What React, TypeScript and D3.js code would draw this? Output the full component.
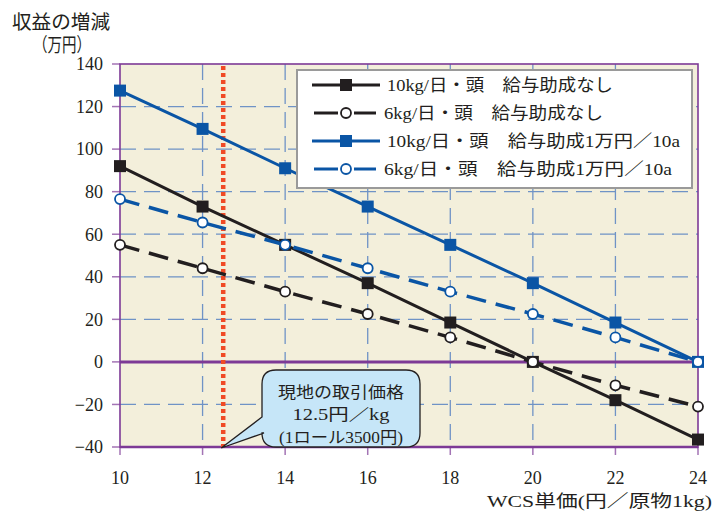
import React from "react";
import * as d3 from "d3";

const xValues = [10, 12, 14, 16, 18, 20, 22, 24];
const black10 = [92, 73, 55, 37, 18.5, 0, -18, -36.5];
const black6 = [55, 44, 33, 22.5, 11.5, 0, -11, -21];
const blue10 = [127.5, 109.5, 91, 73, 55, 37, 18.5, 0];
const blue6 = [76.5, 65.5, 55, 44, 33, 22.5, 11.5, 0];
const yTicks = [140, 120, 100, 80, 60, 40, 20, 0, -20, -40];
const seriesNames = [
  "10kg/日・頭　給与助成なし",
  "6kg/日・頭　給与助成なし",
  "10kg/日・頭　給与助成1万円／10a",
  "6kg/日・頭　給与助成1万円／10a",
];
const calloutLines = ["現地の取引価格", "12.5円／kg", "(1ロール3500円)"];
const currentPrice = 12.5;

const FONT = "'Liberation Serif', 'DejaVu Serif', 'Noto Sans CJK JP', serif";
const PURPLE = "#7d3a96";
const BLUE = "#0a55a5";
const BLACK = "#221e1f";
const GRID = "#6f93c6";

export default function App() {
  const W = 718, H = 511;
  const L = 120, R = 698, T = 64, B = 447;
  const x = d3.scaleLinear().domain([10, 24]).range([L, R]);
  const y = d3.scaleLinear().domain([-40, 140]).range([B, T]);

  const series = [
    { vals: black10, color: BLACK, dash: null, marker: "square" },
    { vals: black6, color: BLACK, dash: "20,10", marker: "circle" },
    { vals: blue10, color: BLUE, dash: null, marker: "square" },
    { vals: blue6, color: BLUE, dash: "20,10", marker: "circle" },
  ];
  const legendX = [387, 384, 387, 384];
  const legendLen = [226, 219, 293, 288];
  const calloutLen = [126, 97, 124];

  const line = d3.line<number>().x((_, i) => x(xValues[i])).y((v) => y(v));

  const marker = (type: string, cx: number, cy: number, color: string, key: string) =>
    type === "square" ? (
      <rect key={key} x={cx - 6} y={cy - 6} width={12} height={12} fill={color} />
    ) : (
      <circle key={key} cx={cx} cy={cy} r={5} fill="#fff" stroke={color} strokeWidth={1.8} />
    );

  // callout geometry
  const cx0 = 262, cx1 = 420, cy0 = 370, cy1 = 447, rr = 14;
  const tipX = x(currentPrice) - 2, tipY = B + 1;
  const calloutPath = [
    `M${cx0 + rr},${cy0}`,
    `H${cx1 - rr}`,
    `Q${cx1},${cy0} ${cx1},${cy0 + rr}`,
    `V${cy1 - rr}`,
    `Q${cx1},${cy1} ${cx1 - rr},${cy1}`,
    `H${cx0 + rr}`,
    `Q${cx0},${cy1} ${cx0},${cy1 - rr}`,
    `L${cx0 + 2},${cy1 - 14}`,
    `L${tipX},${tipY}`,
    `L${cx0},${cy1 - 30}`,
    `V${cy0 + rr}`,
    `Q${cx0},${cy0} ${cx0 + rr},${cy0}`,
    "Z",
  ].join(" ");

  return (
    <svg width={W} height={H} style={{ display: "block", position: "absolute", left: 0, top: 0 }} fontFamily={FONT}>
      <rect width={W} height={H} fill="#fff" />
      <rect x={L} y={T} width={R - L} height={B - T} fill="#f3efdb" />
      {/* grid */}
      {yTicks.filter((t) => t !== 140 && t !== -40 && t !== 0).map((t) => (
        <line key={"gy" + t} x1={L} x2={R} y1={y(t)} y2={y(t)} stroke={GRID} strokeWidth={1.3} strokeDasharray="16,8" />
      ))}
      {xValues.filter((v) => v !== 10 && v !== 24).map((v) => (
        <line key={"gx" + v} x1={x(v)} x2={x(v)} y1={T} y2={B} stroke={GRID} strokeWidth={1.3} strokeDasharray="16,8" />
      ))}
      {/* ticks */}
      {yTicks.map((t) => (
        <line key={"ty" + t} x1={L - 8} x2={L} y1={y(t)} y2={y(t)} stroke={PURPLE} strokeWidth={1.5} opacity={0.7} />
      ))}
      {xValues.map((v) => (
        <line key={"tx" + v} x1={x(v)} x2={x(v)} y1={B} y2={B + 8} stroke={PURPLE} strokeWidth={1.5} opacity={0.7} />
      ))}
      {/* border */}
      <rect x={L} y={T} width={R - L} height={B - T} fill="none" stroke={PURPLE} strokeWidth={1.6} />
      <line x1={L} x2={R} y1={B} y2={B} stroke={PURPLE} strokeWidth={2.5} />
      <line x1={L} x2={R} y1={y(0)} y2={y(0)} stroke={PURPLE} strokeWidth={3} />
      {/* red price line */}
      <line x1={x(currentPrice)} x2={x(currentPrice)} y1={T + 2} y2={B} stroke="#f04a25" strokeWidth={4.5} strokeDasharray="4,3" />
      {/* series */}
      {series.map((s, si) => (
        <g key={"s" + si}>
          <path d={line(s.vals) || ""} fill="none" stroke={s.color} strokeWidth={s.dash ? 3.5 : 3} strokeDasharray={s.dash || undefined} />
          {s.vals.map((v, i) => marker(s.marker, x(xValues[i]), y(v), s.color, `m${si}-${i}`))}
        </g>
      ))}
      {/* y tick labels */}
      {yTicks.map((t) => (
        <text key={"ly" + t} x={103} y={y(t)} dy="0.35em" textAnchor="end" fontSize={18} fill="#231f20">
          {t < 0 ? "−" + Math.abs(t) : t}
        </text>
      ))}
      {/* x tick labels */}
      {xValues.map((v) => (
        <text key={"lx" + v} x={x(v)} y={478} dy="0.35em" textAnchor="middle" fontSize={18} fill="#231f20">
          {v}
        </text>
      ))}
      <text x={487} y={501} dy="0.35em" fontSize={17.5} fill="#231f20" textLength={225} lengthAdjust="spacingAndGlyphs">
        WCS単価(円／原物1kg)
      </text>
      <text x={12} y={22} dy="0.35em" fontSize={19.5} fill="#231f20" textLength={98} lengthAdjust="spacingAndGlyphs">収益の増減</text>
      <text x={33} y={45} dy="0.35em" fontSize={19} fill="#231f20" textLength={58} lengthAdjust="spacingAndGlyphs">（万円）</text>
      {/* legend */}
      <rect x={297} y={70} width={395} height={118} fill="#fff" stroke="#9a9a9a" strokeWidth={2} />
      {series.map((s, i) => {
        const ly = 85 + i * 28;
        return (
          <g key={"lg" + i}>
            {s.dash ? (
              <>
                <line x1={314} x2={338} y1={ly} y2={ly} stroke={s.color} strokeWidth={3} />
                <line x1={354} x2={376} y1={ly} y2={ly} stroke={s.color} strokeWidth={3} />
              </>
            ) : (
              <line x1={312} x2={380} y1={ly} y2={ly} stroke={s.color} strokeWidth={3} />
            )}
            {marker(s.marker, 346, ly, s.color, "lm" + i)}
            <text x={legendX[i]} y={ly} dy="0.35em" fontSize={17} fill="#231f20" textLength={legendLen[i]} lengthAdjust="spacingAndGlyphs">
              {seriesNames[i]}
            </text>
          </g>
        );
      })}
      {/* callout */}
      <path d={calloutPath} fill="#c6e6f8" stroke="#231f20" strokeWidth={1.3} />
      {calloutLines.map((t, i) => (
        <text key={"c" + i} x={341 - calloutLen[i] / 2} y={392 + i * 22.5} dy="0.35em" fontSize={16} fill="#231f20" textLength={calloutLen[i]} lengthAdjust="spacingAndGlyphs">
          {t}
        </text>
      ))}
    </svg>
  );
}
